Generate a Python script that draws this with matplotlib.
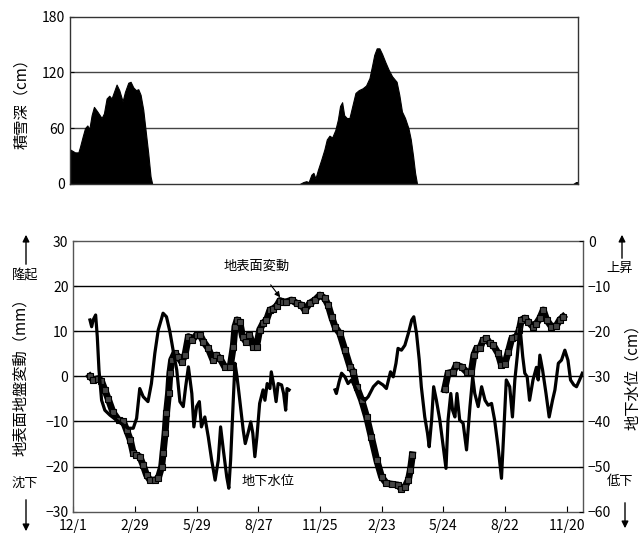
import matplotlib
matplotlib.use("Agg")
import matplotlib.pyplot as plt

plt.rcParams['font.family'] = ['Noto Sans CJK JP', 'DejaVu Sans']

# --- snow depth (cm), days since 12/1 ---
snow1_day = [0.5, 7.3, 12.2, 14.6, 18.5, 21.9, 25.3, 28.2, 31.6, 35, 39.9, 46.2, 49.6, 53.5,
             57.4, 60.8, 64.2, 68.1, 72, 76.9, 80.3, 85.2, 88.6, 92.5, 96.4, 99.8, 103.2,
             107.1, 110.5, 114.4, 117.8, 120.2]
snow1_cm = [37, 34, 34, 40, 51, 60, 63, 59, 74, 83, 78, 71, 76, 92,
            95, 92, 99, 107, 101, 89, 99, 109, 110, 104, 101, 102, 96,
            80, 58, 33, 8, 0]
snow2_day = [336, 341, 345.5, 349, 353, 356, 359, 362.5, 367.4, 372, 375.6, 379.5, 383.4, 388,
             391.7, 395, 398, 401, 404.8, 408.7, 412.6, 417.5, 422.3, 428, 433, 438, 442,
             445, 448.6, 452.5, 456.4, 461.3, 466, 471, 477.7, 481.6, 485.5, 490, 495,
             498.4, 501.8, 504.7, 507.6]
snow2_cm = [0, 2, 3, 2, 10, 12, 6, 15, 26, 37, 48, 52, 50, 58,
            69, 84, 88, 74, 71, 71, 83, 98, 101, 103, 106, 114, 128,
            139, 146, 146, 140, 131, 123, 116, 110, 96, 78, 71, 60,
            48, 30, 12, 0]
snow3_day = [736, 740, 743]
snow3_cm = [0, 2, 2]

# --- ground surface displacement (mm) ---
disp1_day = [24.3, 29, 36.5, 41, 46, 51, 58, 66, 73, 78, 83, 87.5, 92, 97, 102, 107, 112,
             119, 124, 129, 131, 134, 136, 139, 141, 143.5, 148, 153, 158, 163, 168, 173,
             180, 185, 190, 197, 204, 209, 214, 221, 229, 233.5, 236, 239, 243, 247, 252,
             257, 263, 267.5, 272, 277, 282, 287, 292, 297, 301.5, 306, 311, 318.6, 326,
             333, 338, 345, 352.6, 360, 367, 372, 377, 382, 389, 396.5, 404, 408.6, 413.5,
             421, 428, 435, 443, 450, 457, 464.6, 474, 479, 484, 489, 492, 495]
disp1_mm = [0, -0.8, -0.5, -1, -3, -5, -8, -9.7, -10, -12, -14, -17, -17.5, -17.8, -19.7,
            -21.9, -23, -23, -22.6, -20, -17, -12.6, -8.2, -3.8, 0.7, 3.6, 5.1, 4.4, 3.2,
            4.7, 8.8, 8, 9.2, 9.2, 7.7, 6.2, 3.6, 4.7, 4, 2.1, 2.1, 6.6, 11, 12.5, 12.1,
            8.8, 7.7, 9.2, 6.6, 6.6, 10.3, 11.8, 12.5, 14.7, 15, 15.6, 16.8, 16.5, 16.5,
            16.9, 16.2, 15.8, 14.7, 16.2, 16.9, 18, 17.3, 15.8, 13.2, 11, 9.5, 5.8, 2.1, 1,
            -2.3, -5.3, -8.9, -13.4, -18.6, -22.3, -23.7, -23.9, -24.1, -25, -24.5, -23,
            -20.8, -17.4]
disp2_day = [542, 547, 554.6, 559, 566.7, 574, 581, 584.7, 588.6, 593.5, 598, 603, 608, 613,
             620, 625, 630, 635, 640, 647, 651, 654, 659, 664, 671, 676, 681, 686, 691,
             698, 705, 710, 715]
disp2_mm = [-2.9, 0.7, 1, 2.5, 2.1, 1, 1, 4.7, 6.2, 6.2, 8, 8.4, 7.3, 6.9,
            5.1, 2.5, 2.8, 5.5, 8.4, 8.8, 10.3, 12.5, 12.9, 12.1, 11, 11.7, 12.9, 14.7,
            12.5, 11, 11.2, 12.5, 13.2]

# --- groundwater level (cm) ---
gw1_day = [24.3, 26.8, 29, 32.6, 35, 37.5, 41.3, 46, 53.5, 63, 73, 80, 87.5, 92.4, 97, 102,
           109, 114, 119, 124, 129, 131, 136, 141, 146, 151, 155.6, 160.5, 164, 168, 173,
           176, 180, 184, 187, 192, 197, 202, 207, 211.6, 215, 219, 224, 227, 229.6,
           233.5, 236, 239, 243, 248, 251, 255, 259, 262, 265, 268, 272, 277, 279.7, 283,
           287, 289, 293, 296, 299, 304, 307, 310, 312, 315]
gw1_cm = [-17.5, -19, -17.5, -16.4, -21.2, -28.6, -35.3, -37.5, -38.6, -39.7, -40.8, -41.5,
          -41.5, -39.3, -32.7, -34.5, -35.6, -31.6, -24.9, -19.7, -17.1, -16, -16.8, -20.1,
          -24.5, -28.6, -35.6, -36.7, -32.3, -27.9, -33.8, -41.2, -36.7, -35.6, -41.2, -39,
          -43.4, -48.6, -53, -48.6, -41.2, -46.3, -52.3, -54.8, -48.6, -35.3, -27.1, -30.1,
          -35.3, -41.9, -44.9, -42.6, -40.1, -42.6, -47.8, -43.4, -36, -33, -35.3, -31.6,
          -32.7, -29, -32.3, -35.6, -31.6, -31.9, -33.8, -37.5, -32.7, -33]
gw2_day = [382, 384, 388, 391.6, 396.5, 401, 406, 411, 418, 425.7, 430.5, 438, 445, 452, 457,
           463, 467, 471, 474, 479, 484, 489, 494, 497, 501, 505, 508, 513, 517, 519.5,
           523, 526, 530, 535, 540, 544, 547, 551, 553.6, 557, 560, 564, 569, 574, 579,
           583, 586, 591, 596, 601, 605.6, 610.5, 615, 620, 625, 628, 632, 637, 641,
           644.5, 648, 652, 656, 659, 662.5, 666, 671, 676, 678.6, 681, 685, 690, 694.6,
           699.5, 703, 708, 712.6, 717.5, 722, 725.8, 730.6, 734.5, 739, 743]
gw2_cm = [-33, -33.8, -31.2, -29.3, -30.1, -31.6, -30.8, -32.3, -34.5, -35.3, -34.5, -32.3,
          -31.2, -31.9, -32.7, -29, -30.1, -27.1, -23.8, -24.2, -23.1, -20.5, -17.5, -16.8,
          -20.5, -26.4, -32.3, -39, -42.6, -45.6, -39.7, -32.3, -35.3, -39.7, -45.6, -50.4,
          -39.7, -33.8, -37.5, -39, -33.8, -39.7, -40.4, -46.3, -36.7, -30.1, -33.8, -36.7,
          -32.3, -35.3, -36.4, -36, -39.7, -45.6, -52.6, -43.4, -30.8, -32.3, -39, -30.8,
          -25.6, -19, -25.6, -29.3, -30.1, -35.3, -30.8, -28, -30.8, -25.3, -28.6, -33.8,
          -39, -35.3, -33, -27.1, -26.4, -24.2, -26.4, -30.8, -31.9, -32.3, -30.8, -29.3]

tick_days = [0, 90, 180, 270, 360, 450, 540, 630, 720]
tick_labels = ["12/1", "2/29", "5/29", "8/27", "11/25", "2/23", "5/24", "8/22", "11/20"]

fig = plt.figure(figsize=(6.43, 5.40), dpi=100)
fs = 10

# ---------------- snow depth panel ----------------
ax1 = fig.add_axes([0.1089, 0.6593, 0.79, 0.3097])
for d, v in [(snow1_day, snow1_cm), (snow2_day, snow2_cm), (snow3_day, snow3_cm)]:
    ax1.fill_between(d, 0, v, color='black', lw=0.8, edgecolor='black')
ax1.set_xlim(0, 743)
ax1.set_ylim(0, 180)
ax1.set_yticks([0, 60, 120, 180])
ax1.set_xticks([])
ax1.tick_params(axis='y', labelsize=fs, length=3, direction='in')
for y in [60, 120]:
    ax1.axhline(y, color='#444444', lw=1.0, zorder=0)
for s in ax1.spines.values():
    s.set_color('#333333')
    s.set_linewidth(1.0)
ax1.set_ylabel("積雪深（cm）", fontsize=11)
ax1.yaxis.set_label_coords(-0.078, 0.5)

# ---------------- displacement / groundwater panel ----------------
ax2 = fig.add_axes([0.114, 0.0524, 0.7927, 0.5013])
for y in range(-20, 30, 10):
    ax2.axhline(y, color='black', lw=1.0, zorder=0)
ax2.set_xlim(0, 744)
ax2.set_ylim(-30, 30)
ax2.set_yticks(range(-30, 31, 10))
ax2.set_xticks(tick_days)
ax2.set_xticklabels(tick_labels)
ax2.tick_params(axis='x', labelsize=fs, direction='in', length=4, pad=5)
ax2.tick_params(axis='y', labelsize=fs, direction='in', length=3)
for s in ax2.spines.values():
    s.set_color('#555555')
    s.set_linewidth(1.0)
ax2.set_ylabel("地表面地盤変動（mm）", fontsize=11)
ax2.yaxis.set_label_coords(-0.086, 0.51)

for d, v in [(disp1_day, disp1_mm), (disp2_day, disp2_mm)]:
    ax2.plot(d, v, color='black', lw=5, marker='s', markersize=4,
             markerfacecolor='#444444', markeredgecolor='black', markeredgewidth=0.8,
             zorder=3)

ax3 = ax2.twinx()
ax3.set_ylim(-60, 0)
ax3.set_yticks(range(-60, 1, 10))
ax3.tick_params(axis='y', labelsize=fs, direction='in', length=3)
for s in ax3.spines.values():
    s.set_visible(False)
for d, v in [(gw1_day, gw1_cm), (gw2_day, gw2_cm)]:
    ax3.plot(d, v, color='black', lw=2.3, zorder=4)
ax3.set_ylabel("地下水位（cm）", fontsize=11, rotation=90)
ax3.yaxis.set_label_coords(1.08, 0.51)

# series labels
ax2.annotate("地表面変動", xy=(302, 17.5), xytext=(268, 24.3), fontsize=9.5,
             ha='center', va='center',
             arrowprops=dict(arrowstyle='-|>', color='black', lw=0.8, mutation_scale=8,
                             shrinkA=8, shrinkB=0))
ax2.text(284, -23.4, "地下水位", fontsize=9.5, ha='center', va='center')

# direction markers outside the axes
fig.text(25 / 643, 1 - 276 / 540, "隆起", fontsize=9.5, ha='center', va='center')
fig.text(25 / 643, 1 - 483 / 540, "沈下", fontsize=9.5, ha='center', va='center')
fig.text(620 / 643, 1 - 268 / 540, "上昇", fontsize=9.5, ha='center', va='center')
fig.text(620 / 643, 1 - 482 / 540, "低下", fontsize=9.5, ha='center', va='center')

def farrow(x, y0, y1):
    fig.add_artist(matplotlib.patches.FancyArrowPatch(
        (x / 643, 1 - y0 / 540), (x / 643, 1 - y1 / 540),
        transform=fig.transFigure, arrowstyle='-|>', mutation_scale=10,
        color='black', lw=1.0))

farrow(26, 267, 232)
farrow(26, 497, 534)
farrow(622, 261, 232)
farrow(625, 500, 531)

fig.savefig("out.png", dpi=100)
